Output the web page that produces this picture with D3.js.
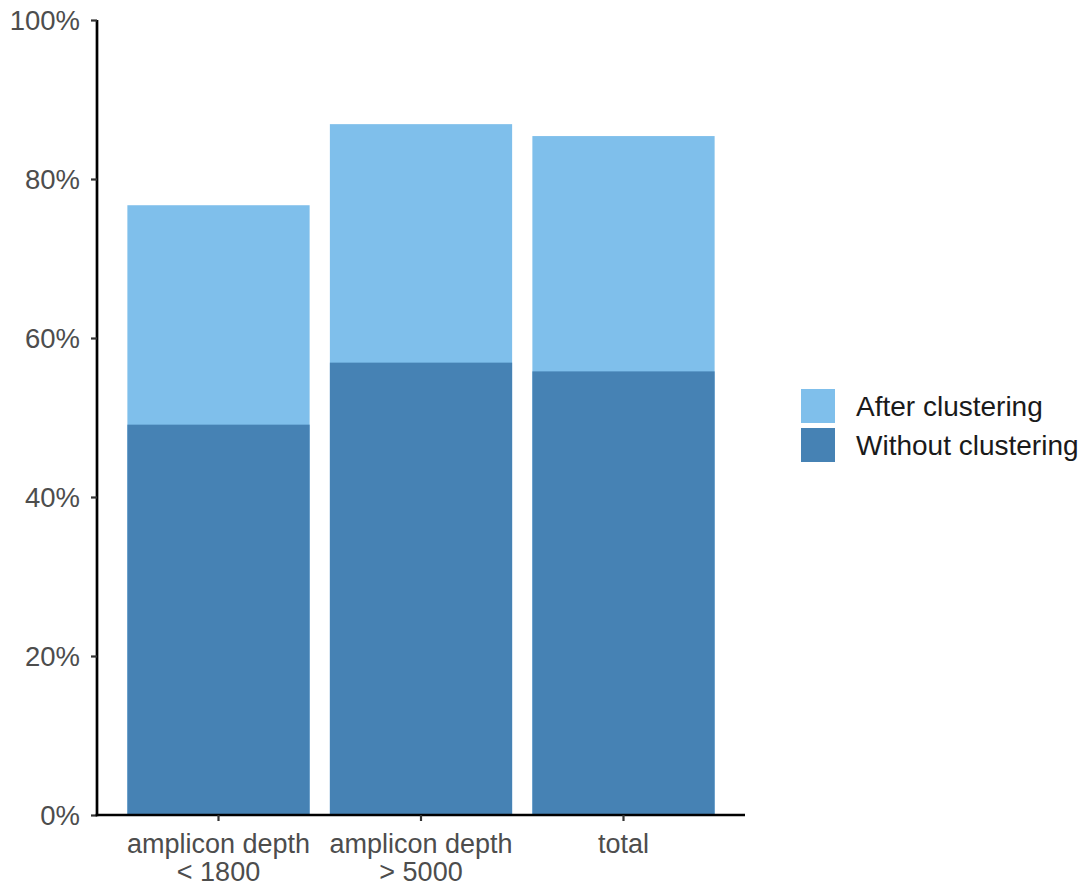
<!DOCTYPE html>
<html>
<head>
<meta charset="utf-8">
<script src="https://cdn.jsdelivr.net/npm/d3@7"></script>
<style>
  body { margin: 0; background: #fff; }
  svg { display: block; font-family: "Liberation Sans", Arial, sans-serif; }
</style>
</head>
<body>
<svg id="chart" width="1083" height="885"></svg>
<script>
const categories = [["amplicon depth", "< 1800"], ["amplicon depth", "> 5000"], ["total"]];
const categoryKeys = ["cat1", "cat2", "cat3"];
const withoutClustering = [0.491, 0.569, 0.558];
const afterClustering = [0.767, 0.869, 0.854];
const seriesNames = ["After clustering", "Without clustering"];
const seriesColors = ["#7fbfeb", "#4682b4"];
const yTicks = [0, 0.2, 0.4, 0.6, 0.8, 1.0];

(function () {
const svg = d3.select("#chart");
const mLeft = 97, mRight = 745, mTop = 20, mBottom = 815;

const x = d3.scaleBand().domain(categoryKeys).range([mLeft, mRight])
  .paddingInner(0.1).paddingOuter(0.15);
const y = d3.scaleLinear().domain([0, 1]).range([mBottom, mTop]);

const g = svg.append("g");

g.selectAll("rect.after").data(afterClustering).join("rect")
  .attr("class", "after")
  .attr("x", (d, i) => x(categoryKeys[i]))
  .attr("width", x.bandwidth())
  .attr("y", d => y(d))
  .attr("height", d => y(0) - y(d))
  .attr("fill", seriesColors[0]);

g.selectAll("rect.without").data(withoutClustering).join("rect")
  .attr("class", "without")
  .attr("x", (d, i) => x(categoryKeys[i]))
  .attr("width", x.bandwidth())
  .attr("y", d => y(d))
  .attr("height", d => y(0) - y(d))
  .attr("fill", seriesColors[1]);

const yAxis = svg.append("g").attr("transform", `translate(${mLeft},0)`)
  .call(d3.axisLeft(y).tickValues(yTicks).tickFormat(d3.format(".0%")).tickSize(6).tickPadding(11));
yAxis.select(".domain").attr("stroke", "#000").attr("stroke-width", 2.7)
  .attr("d", `M0,${mTop}V${mBottom + 1.35}`);
yAxis.selectAll(".tick line").attr("stroke", "#333").attr("stroke-width", 2.2);
yAxis.selectAll(".tick text").attr("fill", "#4d4d4d").attr("font-size", 27.5)
  .attr("font-family", "Liberation Sans, Arial, sans-serif").attr("dy", "0.34em");

const xAxis = svg.append("g").attr("transform", `translate(0,${mBottom})`)
  .call(d3.axisBottom(x).tickSize(6).tickFormat(""));
xAxis.select(".domain").attr("stroke", "#000").attr("stroke-width", 2.7)
  .attr("d", `M${mLeft - 1.35},0H${mRight}`);
xAxis.selectAll(".tick line").attr("stroke", "#333").attr("stroke-width", 2.2);
xAxis.selectAll(".tick").each(function(d, i) {
  const t = d3.select(this).append("text")
    .attr("fill", "#4d4d4d").attr("font-size", 27)
    .attr("font-family", "Liberation Sans, Arial, sans-serif")
    .attr("text-anchor", "middle");
  categories[i].forEach((line, j) => {
    t.append("tspan").attr("x", 0).attr("y", 38 + j * 27.5).text(line);
  });
});

const legend = svg.append("g").attr("transform", "translate(801,389)");
seriesNames.forEach((name, i) => {
  const row = legend.append("g").attr("transform", `translate(0,${i * 39})`);
  row.append("rect").attr("width", 34).attr("height", 34).attr("fill", seriesColors[i]);
  row.append("text").attr("x", 55).attr("y", 17).attr("dy", "0.35em")
    .attr("font-size", 28).attr("fill", "#1a1a1a").text(name);
});
})();
</script>
</body>
</html>
